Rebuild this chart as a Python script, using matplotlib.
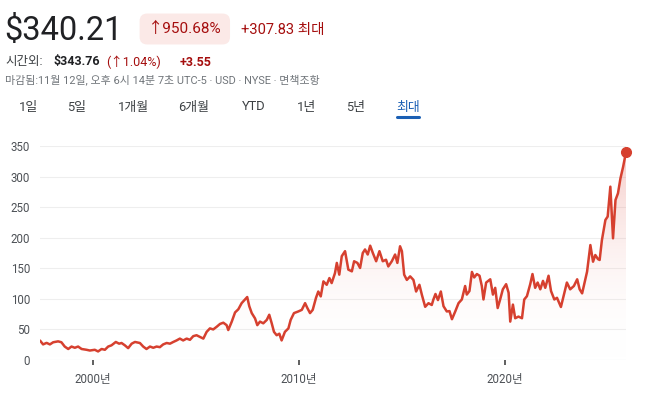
import numpy as np
import matplotlib
matplotlib.use("Agg")
import matplotlib.pyplot as plt
from matplotlib.colors import LinearSegmentedColormap

plt.rcParams['font.family'] = ['Roboto', 'Noto Sans CJK KR', 'DejaVu Sans']

# price history (decimal year, USD)
years = [1997.44, 1997.57, 1997.74, 1997.90, 1998.06, 1998.30, 1998.46, 1998.62, 1998.79, 1998.95,
         1999.11, 1999.27, 1999.44, 1999.68, 1999.84, 2000.08, 2000.24, 2000.41, 2000.57, 2000.73,
         2000.89, 2001.10, 2001.26, 2001.38, 2001.54, 2001.70, 2001.87, 2002.03, 2002.27, 2002.43,
         2002.59, 2002.76, 2002.92, 2003.08, 2003.24, 2003.40, 2003.57, 2003.73, 2003.89, 2004.05,
         2004.21, 2004.37, 2004.54, 2004.70, 2004.86, 2005.02, 2005.18, 2005.35, 2005.51, 2005.67,
         2005.83, 2006.00, 2006.16, 2006.32, 2006.48, 2006.56, 2006.73, 2006.89, 2007.05, 2007.21,
         2007.37, 2007.48, 2007.58, 2007.70, 2007.86, 2007.97, 2008.10, 2008.26, 2008.43, 2008.55,
         2008.67, 2008.78, 2008.91, 2009.04, 2009.15, 2009.31, 2009.48, 2009.59, 2009.75, 2009.96,
         2010.13, 2010.29, 2010.40, 2010.53, 2010.66, 2010.82, 2010.93, 2011.05, 2011.18, 2011.34,
         2011.47, 2011.58, 2011.74, 2011.83, 2011.95, 2012.07, 2012.23, 2012.39, 2012.56, 2012.67,
         2012.83, 2012.96, 2013.09, 2013.20, 2013.33, 2013.45, 2013.58, 2013.74, 2013.90, 2014.06,
         2014.22, 2014.33, 2014.50, 2014.66, 2014.77, 2014.90, 2014.99, 2015.10, 2015.23, 2015.39,
         2015.55, 2015.68, 2015.84, 2015.96, 2016.12, 2016.28, 2016.44, 2016.52, 2016.62, 2016.74,
         2016.88, 2017.01, 2017.17, 2017.30, 2017.42, 2017.58, 2017.74, 2017.90, 2018.06, 2018.14,
         2018.27, 2018.39, 2018.50, 2018.63, 2018.76, 2018.87, 2018.95, 2019.08, 2019.28, 2019.41,
         2019.52, 2019.64, 2019.76, 2019.89, 2020.05, 2020.17, 2020.25, 2020.38, 2020.49, 2020.65,
         2020.82, 2020.93, 2021.06, 2021.22, 2021.33, 2021.46, 2021.58, 2021.71, 2021.84, 2021.95,
         2022.11, 2022.23, 2022.39, 2022.52, 2022.71, 2022.84, 2023.00, 2023.16, 2023.34, 2023.50,
         2023.62, 2023.74, 2023.85, 2023.98, 2024.14, 2024.27, 2024.38, 2024.51, 2024.59, 2024.70,
         2024.87, 2024.98, 2025.11, 2025.24, 2025.36, 2025.48, 2025.60, 2025.73, 2025.87]
prices = [31, 25.5, 28, 25.5, 29, 30.5, 29, 22, 18, 22,
          20, 22, 18, 16.7, 15.5, 16.7, 14, 18, 16.7, 22,
          24, 29.5, 26.7, 27.8, 24, 19.4, 26.7, 29.5, 27.8, 22,
          18, 22, 20, 22, 21, 25.5, 27.8, 26.7, 29.5, 32,
          35, 32, 35, 33, 39, 40.5, 37.8, 35, 46, 51.7,
          50, 54.4, 59, 61, 57, 49, 62.8, 77.8, 83, 93,
          99, 103, 88, 76.7, 68, 57, 62.8, 60, 65.6, 74,
          60, 46, 40.5, 43, 32, 46, 51.7, 65.6, 76.7, 79.4,
          82, 93, 85, 76.7, 82, 101.7, 112, 104, 128.6, 123,
          134, 125.8, 142, 158.8, 139.6, 169.8, 178, 147.8, 145, 161.5,
          158.8, 150.5, 175, 180.8, 172.5, 187, 175, 161.5, 178, 161.5,
          164, 153, 161.5, 172.5, 158.8, 186, 178, 139.6, 131, 136.8,
          131, 112, 123, 106.6, 87, 92.9, 90, 99, 108, 98,
          112, 88, 79.4, 80, 66.7, 79.4, 93, 99, 121, 107,
          112.8, 144, 135, 140.6, 137.8, 121, 99, 126.7, 132, 107,
          118, 85, 99, 115.6, 124, 110, 62.8, 90.6, 68.3, 71,
          68.3, 99, 104.4, 124, 140.6, 118, 126.7, 115.6, 129.4, 118,
          137.8, 112.8, 99, 101.7, 86.7, 104.4, 126.7, 115.6, 121, 132,
          115.6, 109, 125, 144.5, 188, 160.8, 171.7, 165, 163.6, 196,
          229, 234.6, 283.5, 199, 261.7, 272.6, 297, 316, 340.21]

y_ticks = [0, 50, 100, 150, 200, 250, 300, 350]
x_ticks = [2000, 2010, 2020]
x_labels = ["2000년", "2010년", "2020년"]
tabs = ["1일", "5일", "1개월", "6개월", "YTD", "1년", "5년", "최대"]

W, H = 658, 398
fig = plt.figure(figsize=(W / 100, H / 100), dpi=100)
fig.patch.set_facecolor("white")


def fx(x):
    return x / W


def fy(y):
    return 1 - y / H


RED = "#d6402f"
DARKRED = "#a50e0e"

# plot area: x 40..626 px, y 146..360 px
ax = fig.add_axes([fx(40), fy(360), (626 - 40) / W, (360 - 146) / H])
x0, x1 = 1997.42, 2025.87

# gradient fill under the line
grad = np.linspace(0, 1, 256).reshape(-1, 1)
cmap = LinearSegmentedColormap.from_list("fade", [(1, 1, 1, 0), (0.86, 0.25, 0.2, 0.28)])
im = ax.imshow(grad, extent=[x0, x1, 0, 350], origin="lower", cmap=cmap,
               aspect="auto", zorder=1)
poly = ax.fill_between(years, prices, 0, color="none", lw=0)
im.set_clip_path(poly.get_paths()[0], ax.transData)

ax.plot(years, prices, color=RED, lw=1.8, zorder=3, solid_joinstyle="round")
ax.plot([years[-1]], [prices[-1]], "o", color=RED, ms=7, zorder=4, clip_on=False)

for t in y_ticks:
    ax.axhline(t, color="#dadce0" if t == 0 else "#eeeeee", lw=0.8, zorder=0)

ax.set_xlim(x0, x1)
ax.set_ylim(0, 350)
ax.set_yticks(y_ticks)
ax.set_xticks(x_ticks)
ax.set_xticklabels(x_labels)
ax.tick_params(axis="y", length=0, pad=7, labelsize=8.3, labelcolor="#4d5156")
ax.tick_params(axis="x", length=3.5, width=1.2, color="#444444", pad=6,
               labelsize=8.3, labelcolor="#4d5156")
for s in ax.spines.values():
    s.set_visible(False)

# header
fig.text(fx(4), fy(31), "$340.21", fontsize=23.5, color="#202124", va="center")
fig.text(fx(148), fy(29), "↑950.68%", fontsize=11, color=DARKRED, va="center",
         bbox=dict(boxstyle="round,pad=0.55,rounding_size=0.5", fc="#fbe9e7", ec="none"))
fig.text(fx(241), fy(30), "+307.83 최대", fontsize=10.5, color=DARKRED, va="center")

fig.text(fx(5), fy(62), "시간외:", fontsize=9, color="#3c4043", va="center")
fig.text(fx(53), fy(62), "$343.76", fontsize=9, color="#202124", va="center",
         fontweight="bold")
fig.text(fx(106), fy(62), "(↑1.04%)", fontsize=9, color=DARKRED, va="center")
fig.text(fx(180), fy(62), "+3.55", fontsize=9, color=DARKRED, va="center",
         fontweight="bold")
fig.text(fx(5), fy(80), "마감됨:11월 12일, 오후 6시 14분 7초 UTC-5 · USD · NYSE · 면책조항",
         fontsize=7.9, color="#70757a", va="center")

tab_x = [28, 77, 133, 194, 254, 306, 356, 408]
for lbl, x in zip(tabs, tab_x):
    col = "#1a5fb4" if lbl == "최대" else "#3c4043"
    fig.text(fx(x), fy(107), lbl, fontsize=9.3, color=col, ha="center", va="center")
fig.add_artist(plt.Line2D([fx(397), fx(419)], [fy(116.5), fy(116.5)],
                          color="#1a5fb4", lw=2.2, solid_capstyle="round"))

fig.savefig("out.png", dpi=100)
